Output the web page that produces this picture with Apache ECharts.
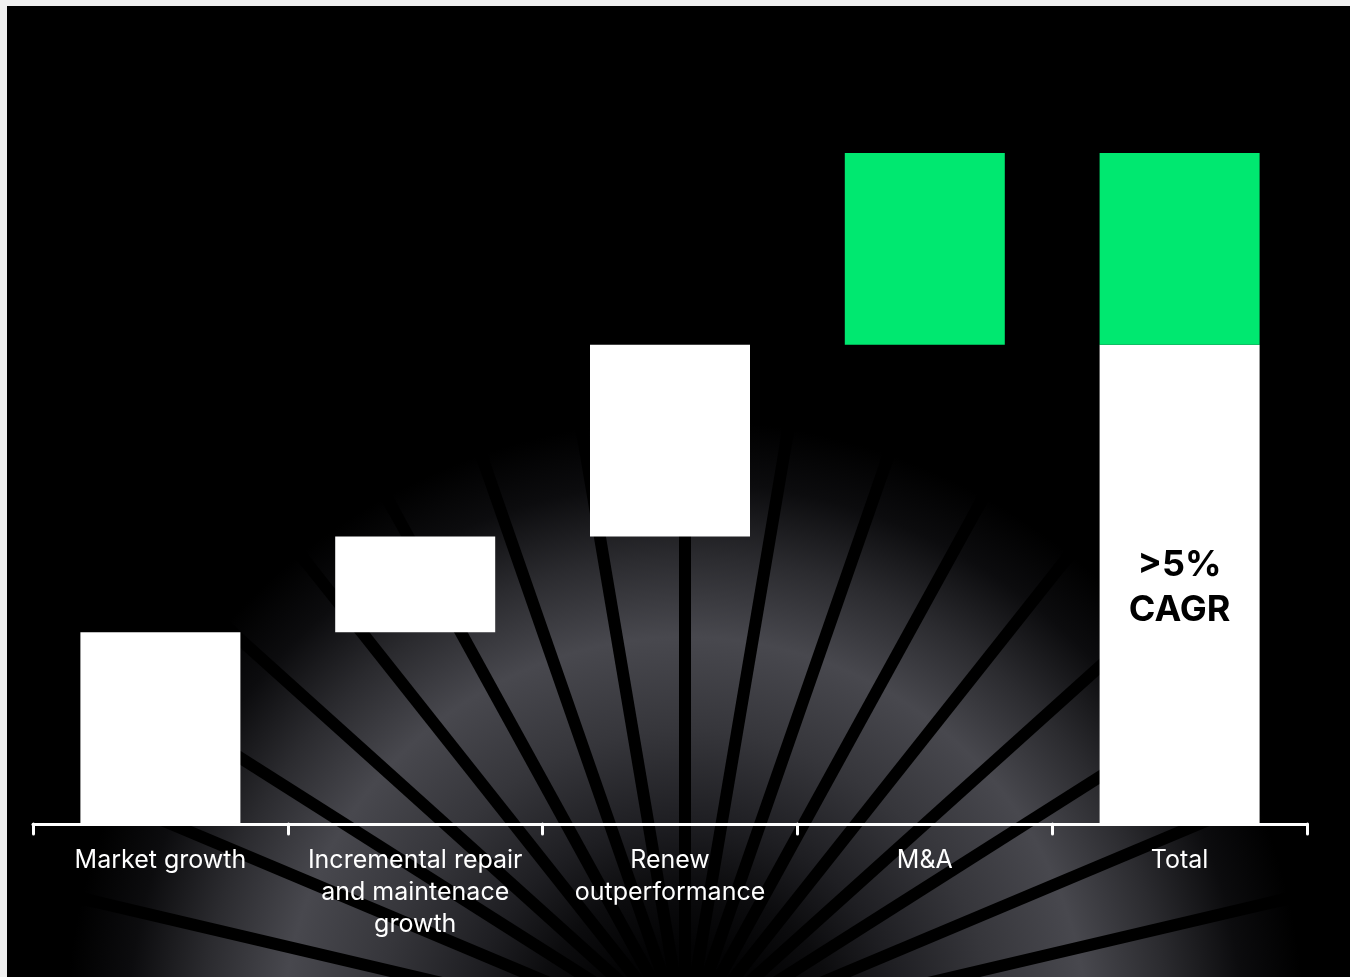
<!DOCTYPE html>
<html>
<head>
<meta charset="utf-8">
<title>Growth bridge</title>
<script src="https://cdn.jsdelivr.net/npm/echarts@6/dist/echarts.min.js"></script>
<style>
  html, body { margin: 0; padding: 0; background: #f0f0f0; }
  #chart { position: absolute; left: 7px; top: 6px; width: 1343px; height: 971px; background: #000; }
</style>
</head>
<body>
<div id="chart"></div>
<script>
// Growth drivers, in relative units
const categories = ['Market growth', 'Incremental repair\nand maintenace\ngrowth', 'Renew\noutperformance', 'M&A', 'Total'];
const organicSteps = [2, 1, 2];     // market growth, repair & maintenance, Renew outperformance
const acquisitionStep = 2;          // M&A
const totalLabel = '>5%\nCAGR';

// Build the waterfall: invisible base + white organic part + green M&A part
const organicTotal = organicSteps.reduce((a, b) => a + b, 0);
const baseValues = [];
const organicValues = [];
const acquisitionValues = [];
let running = 0;
organicSteps.forEach(v => {
  baseValues.push(running);
  organicValues.push(v);
  acquisitionValues.push(0);
  running += v;
});
baseValues.push(organicTotal); organicValues.push(0); acquisitionValues.push(acquisitionStep);
baseValues.push(0); organicValues.push(organicTotal); acquisitionValues.push(acquisitionStep);

const chart = echarts.init(document.getElementById('chart'));

// Sunburst backdrop: glowing ring crossed by dark rays from a point below the axis
const cx = 678, cy = 1034;
const backdrop = [{
  type: 'circle',
  z: -20,
  silent: true,
  shape: { cx: cx, cy: cy, r: 620 },
  style: {
    fill: new echarts.graphic.RadialGradient(0.5, 0.5, 0.5, [
      { offset: 0, color: '#000000' },
      { offset: 0.15, color: '#030304' },
      { offset: 0.25, color: '#0c0c0e' },
      { offset: 0.35, color: '#1e1e22' },
      { offset: 0.5, color: '#36363b' },
      { offset: 0.65, color: '#48484e' },
      { offset: 0.78, color: '#2b2b2f' },
      { offset: 0.9, color: '#0c0c0e' },
      { offset: 1, color: '#000000' }
    ])
  }
}];
const rayStep = 9.6;
for (let k = -9; k <= 9; k++) {
  const a = (k * rayStep) * Math.PI / 180;
  backdrop.push({
    type: 'line',
    z: -10,
    silent: true,
    shape: { x1: cx, y1: cy, x2: cx + Math.sin(a) * 720, y2: cy - Math.cos(a) * 720 },
    style: { stroke: '#000000', lineWidth: 12 }
  });
}

chart.setOption({
  backgroundColor: '#000000',
  animation: false,
  graphic: backdrop,
  grid: { left: 26, right: 43, top: 147, bottom: 153, containLabel: false },
  xAxis: {
    type: 'category',
    data: categories,
    axisLine: { lineStyle: { color: '#ffffff', width: 3, cap: 'round' } },
    axisTick: { show: true, length: 10, lineStyle: { color: '#ffffff', width: 3, cap: 'round' } },
    axisLabel: {
      interval: 0,
      margin: 20,
      color: '#ffffff',
      fontFamily: 'Inter',
      fontSize: 25,
      lineHeight: 32
    }
  },
  yAxis: {
    type: 'value',
    min: 0,
    max: organicTotal + acquisitionStep,
    show: false,
    splitLine: { show: false }
  },
  series: [
    {
      name: 'base',
      type: 'bar',
      stack: 'bridge',
      barWidth: 160,
      silent: true,
      itemStyle: { color: 'transparent' },
      data: baseValues
    },
    {
      name: 'Organic',
      type: 'bar',
      stack: 'bridge',
      barWidth: 160,
      itemStyle: { color: '#ffffff' },
      data: organicValues.map((v, i) => i === categories.length - 1 ? {
        value: v,
        label: {
          show: true,
          position: 'inside',
          offset: [0, 3],
          formatter: totalLabel,
          color: '#000000',
          fontFamily: 'Inter',
          fontWeight: 'bold',
          fontSize: 36,
          lineHeight: 45
        }
      } : v)
    },
    {
      name: 'M&A',
      type: 'bar',
      stack: 'bridge',
      barWidth: 160,
      itemStyle: { color: '#00e870' },
      data: acquisitionValues
    }
  ]
});
</script>
</body>
</html>
